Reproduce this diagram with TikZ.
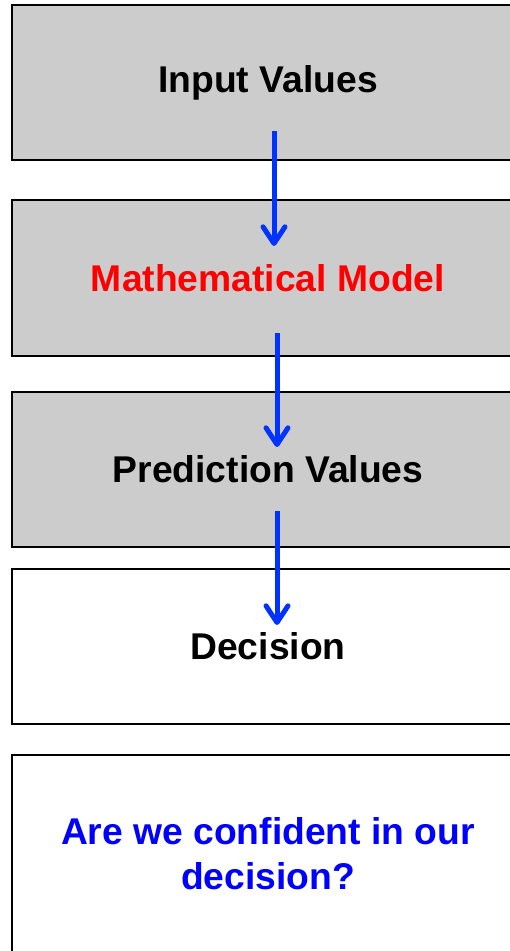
\documentclass[tikz,border=0pt]{standalone}
\usepackage{fontspec}
\setmainfont{Liberation Sans}
\usepackage{xcolor}
\usetikzlibrary{arrows.meta}
\definecolor{boxgray}{HTML}{CCCCCC}
\definecolor{flowblue}{HTML}{0033FF}
\definecolor{askblue}{HTML}{0000FF}

\begin{document}
\begin{tikzpicture}[x=0.03cm,y=-0.03cm,
box/.style={draw=black,line width=0.06cm,minimum width=15.33cm,minimum height=4.65cm,
 font=\fontsize{31.8}{38}\selectfont\bfseries,align=center},
graybox/.style={box,fill=boxgray},
flow/.style={flowblue,line width=0.15cm,-{Straight Barb[length=0.5cm,width=0.66cm,round]}}]
\useasboundingbox(0,0)rectangle(510,951);
\node[graybox](inp)at(268,82.5){Input Values};
\node[graybox,text=red](model)at(268,278){Mathematical Model};
\node[graybox](pred)at(268,469){Prediction Values};
\node[box,fill=white](dec)at(268,646){Decision};
\node[box,fill=white,minimum height=5.91cm,text=askblue](conf)at(268,853.5){Are we confident in our\\decision?};
%% arrow ends
\coordinate(s1)at(274,131);\coordinate(e1)at(274,246);
\coordinate(s2)at(277,333);\coordinate(e2)at(277,447);
\coordinate(s3)at(277,511);\coordinate(e3)at(277,625);
\draw[flow](s1)--(e1);
\draw[flow](s2)--(e2);
\draw[flow](s3)--(e3);
\end{tikzpicture}
\end{document}
